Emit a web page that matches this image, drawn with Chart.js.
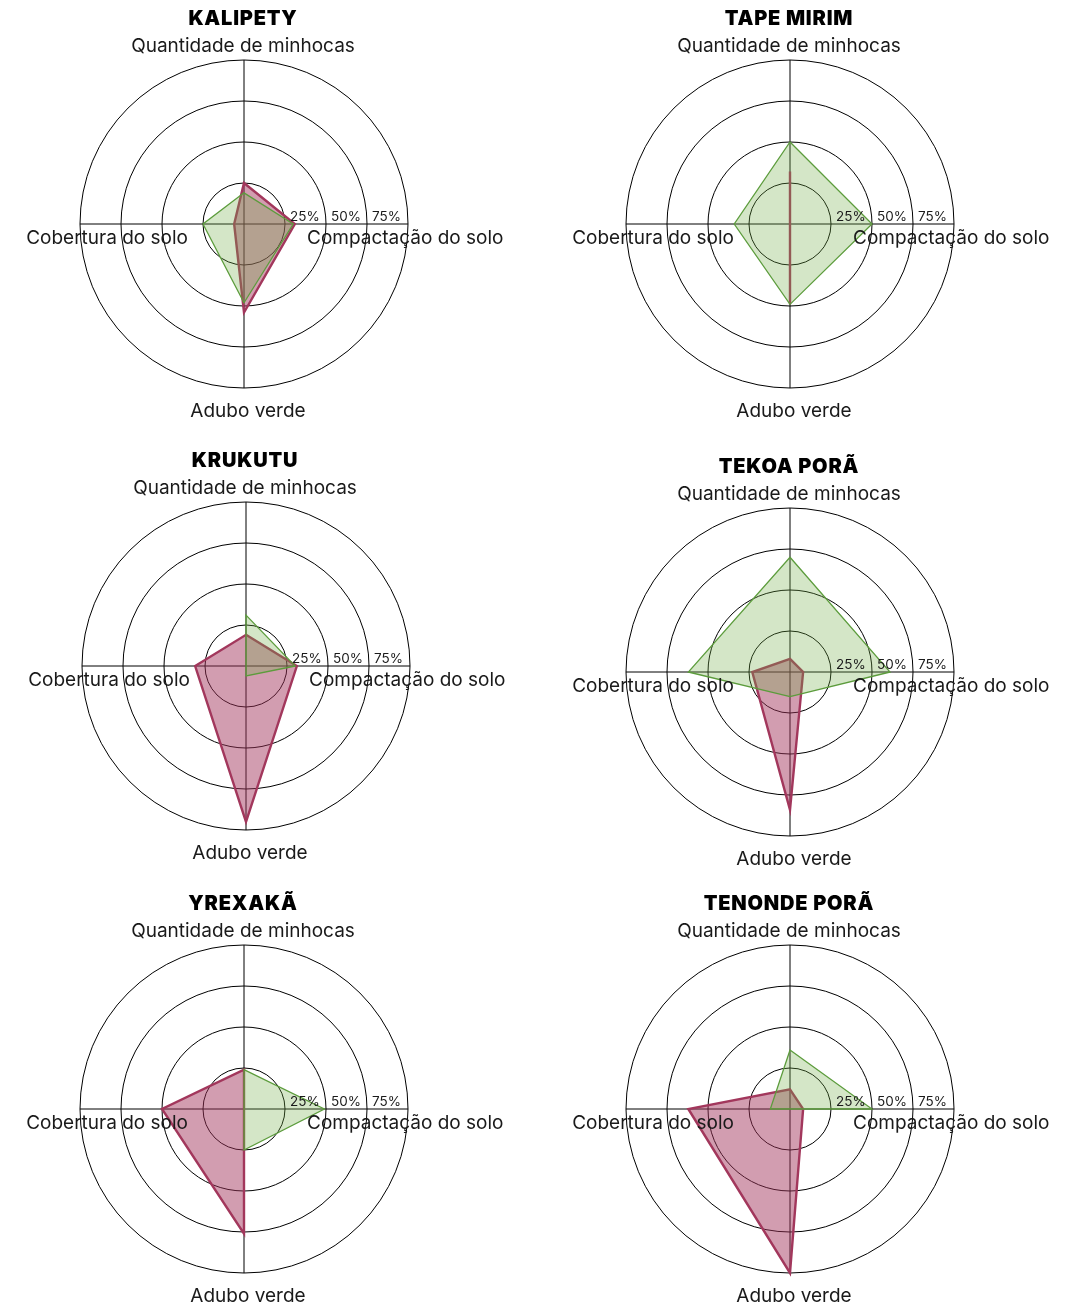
<!DOCTYPE html>
<html>
<head>
<meta charset="utf-8">
<script src="https://cdn.jsdelivr.net/npm/chart.js@4.4.1/dist/chart.umd.min.js"></script>
<style>
  body { margin: 0; background: #fff; }
  #wrap { position: relative; width: 1076px; height: 1306px; }
  #wrap canvas { position: absolute; }
</style>
</head>
<body>
<div id="wrap"></div>
<script>
// eixos do radar (sentido horario, a partir do topo)
const eixos = ["Quantidade de minhocas", "Compactação do solo", "Adubo verde", "Cobertura do solo"];
const marcas = [25, 50, 75];

// valores em % (verde = area verde, rosa = area rosa)
const kalipetyVerde = [19, 30, 48, 25];
const kalipetyRosa = [25, 31, 54, 6];
const tapeMirimVerde = [50, 50, 49, 34];
const tapeMirimRosa = [32, 0, 49, 0];
const krukutuVerde = [31, 30, 6, 0];
const krukutuRosa = [19, 31, 95, 31];
const tekoaPoraVerde = [70, 61, 15, 62];
const tekoaPoraRosa = [8, 8, 84, 23];
const yrexakaVerde = [24, 49, 25, 0];
const yrexakaRosa = [24, 0, 76, 50];
const tenondePoraVerde = [36, 50, 0, 12];
const tenondePoraRosa = [12, 8, 100, 62];

const aldeias = [
    { nome: "KALIPETY", verde: kalipetyVerde, rosa: kalipetyRosa },
    { nome: "TAPE MIRIM", verde: tapeMirimVerde, rosa: tapeMirimRosa },
    { nome: "KRUKUTU", verde: krukutuVerde, rosa: krukutuRosa },
    { nome: "TEKOA PORÃ", verde: tekoaPoraVerde, rosa: tekoaPoraRosa },
    { nome: "YREXAKÃ", verde: yrexakaVerde, rosa: yrexakaRosa },
    { nome: "TENONDE PORÃ", verde: tenondePoraVerde, rosa: tenondePoraRosa },
];

// caixa de cada grafico e centro do radar, em px da pagina
const raio = 164;
const caixas = [
    { x: 0, y: 0, w: 538, h: 440, cx: 244, cy: 224 },
    { x: 538, y: 0, w: 538, h: 440, cx: 790, cy: 224 },
    { x: 0, y: 440, w: 538, h: 440, cx: 246, cy: 666 },
    { x: 538, y: 440, w: 538, h: 440, cx: 790, cy: 672 },
    { x: 0, y: 880, w: 538, h: 426, cx: 244, cy: 1109 },
    { x: 538, y: 880, w: 538, h: 426, cx: 790, cy: 1109 },
];

const fonte = "Inter, 'Open Sans', sans-serif";

const textos = {
    id: "textos",
    afterDraw(chart, args, opts) {
        const s = chart.scales.r;
        const ctx = chart.ctx;
        const cx = s.xCenter;
        const cy = s.yCenter;
        const r = s.drawingArea;
        ctx.save();

        ctx.fillStyle = "#000";
        ctx.textAlign = "center";
        ctx.textBaseline = "middle";
        ctx.font = "900 20px " + fonte;
        ctx.letterSpacing = "0.8px";
        ctx.fillText(opts.titulo, cx - 1, cy - r - 41);
        ctx.letterSpacing = "0px";

        ctx.fillStyle = "#1a1a1a";
        ctx.font = "400 19px " + fonte;
        ctx.fillText(eixos[0], cx - 1, cy - r - 14);
        ctx.fillText(eixos[2], cx + 4, cy + r + 23);
        ctx.textAlign = "left";
        ctx.fillText(eixos[1], cx + 63, cy + 14);
        ctx.textAlign = "right";
        ctx.fillText(eixos[3], cx - 56, cy + 14);

        ctx.font = "400 13.5px " + fonte;
        ctx.textAlign = "left";
        ctx.textBaseline = "alphabetic";
        marcas.forEach(function (v) {
            const d = s.getDistanceFromCenterForValue(v);
            ctx.fillText(v + "%", cx + d + 5, cy - 3);
        });
        ctx.restore();
    },
};

const wrap = document.getElementById("wrap");

aldeias.forEach(function (a, i) {
    const c = caixas[i];
    const canvas = document.createElement("canvas");
    canvas.width = c.w;
    canvas.height = c.h;
    canvas.style.left = c.x + "px";
    canvas.style.top = c.y + "px";
    canvas.style.width = c.w + "px";
    canvas.style.height = c.h + "px";
    wrap.appendChild(canvas);

    const padLeft = c.cx - c.x - raio;
    const padTop = c.cy - c.y - raio;

    new Chart(canvas, {
        type: "radar",
        data: {
            labels: eixos,
            datasets: [
                {
                    label: "Verde",
                    data: a.verde,
                    borderColor: "#5c9c3c",
                    backgroundColor: "rgba(112, 173, 71, 0.3)",
                    borderWidth: 1.3,
                    fill: true,
                },
                {
                    label: "Rosa",
                    data: a.rosa,
                    borderColor: "#a2375c",
                    backgroundColor: "rgba(160, 50, 90, 0.48)",
                    borderWidth: 2.4,
                    fill: true,
                },
            ],
        },
        plugins: [textos],
        options: {
            responsive: false,
            animation: false,
            devicePixelRatio: 1,
            layout: {
                padding: {
                    left: padLeft,
                    top: padTop,
                    right: c.w - padLeft - 2 * raio,
                    bottom: c.h - padTop - 2 * raio,
                },
            },
            elements: {
                line: { tension: 0 },
                point: { radius: 0, hoverRadius: 0 },
            },
            scales: {
                r: {
                    min: 0,
                    max: 100,
                    ticks: { stepSize: 25, display: false },
                    pointLabels: { display: false },
                    grid: { circular: true, color: "#000", lineWidth: 1 },
                    angleLines: { color: "#000", lineWidth: 1 },
                },
            },
            plugins: {
                legend: { display: false },
                tooltip: { enabled: false },
                textos: { titulo: a.nome },
            },
        },
    });
});
</script>
</body>
</html>
